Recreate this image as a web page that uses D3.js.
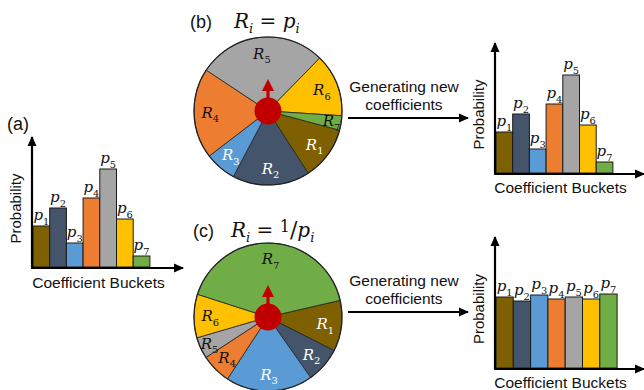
<!DOCTYPE html>
<html>
<head>
<meta charset="utf-8">
<script src="https://d3js.org/d3.v7.min.js"></script>
<style>
  body { margin: 0; background: #fff; }
  text { font-family: "Liberation Sans", Arial, sans-serif; fill: #111; }
  .m { font-family: "DejaVu Serif", "Liberation Serif", serif; }
</style>
</head>
<body>
<svg width="644" height="390"></svg>
<script>
// bucket data (bar heights, arbitrary units)
var buckets = ["1", "2", "3", "4", "5", "6", "7"];
var probOld = [41, 59, 24, 69, 98, 48, 11];
var probNew = [71, 67, 73, 69, 71, 69, 74];
var colors = ["#7f6000", "#44546a", "#5b9bd5", "#ed7d31", "#a5a5a5", "#ffc000", "#70ad47"];
var lightText = [true, true, true, false, false, false, false];

var svg = d3.select("svg");

svg.append("defs").append("marker")
    .attr("id", "arr")
    .attr("viewBox", "0 0 10 10")
    .attr("refX", 9).attr("refY", 5)
    .attr("markerUnits", "userSpaceOnUse")
    .attr("markerWidth", 10).attr("markerHeight", 10)
    .attr("orient", "auto")
    .append("path").attr("d", "M0,0.5 L10,5 L0,9.5 z").attr("fill", "#000");

// italic letter with an upright subscript
function mathLabel(sel, base, sub, size) {
    var t = sel.append("text").attr("class", "m").attr("font-size", size);
    t.append("tspan").attr("font-style", "italic").text(base);
    t.append("tspan").attr("dy", size * 0.3).attr("font-size", size * 0.66).text(sub);
    return t;
}

function barChart(x0, y0, yTop, xEnd, w, values, textY) {
    var g = svg.append("g");
    var x = d3.scaleBand().domain(buckets).range([x0 + 1, x0 + 1 + w * buckets.length]);
    var y = d3.scaleLinear().domain([0, 100]).range([y0, y0 - 100]);

    g.selectAll("rect").data(values).enter().append("rect")
        .attr("x", function(d, i) { return x(buckets[i]); })
        .attr("y", function(d) { return y(d); })
        .attr("width", x.bandwidth())
        .attr("height", function(d) { return y0 - y(d); })
        .attr("fill", function(d, i) { return colors[i]; })
        .attr("stroke", "#1a1a1a").attr("stroke-width", 1);

    values.forEach(function(d, i) {
        mathLabel(g, "p", buckets[i], 15)
            .attr("x", x(buckets[i]) + x.bandwidth() / 2)
            .attr("y", y(d) - 6)
            .attr("text-anchor", "middle");
    });

    g.append("line").attr("x1", x0).attr("y1", y0 + 1).attr("x2", x0).attr("y2", yTop)
        .attr("stroke", "#000").attr("stroke-width", 2.2).attr("marker-end", "url(#arr)");
    g.append("line").attr("x1", x0 - 1).attr("y1", y0 + 1).attr("x2", xEnd).attr("y2", y0 + 1)
        .attr("stroke", "#000").attr("stroke-width", 2.2).attr("marker-end", "url(#arr)");

    g.append("text").attr("x", (x0 + xEnd) / 2 - 9).attr("y", textY)
        .attr("text-anchor", "middle").attr("font-size", 15.5).text("Coefficient Buckets");
    g.append("text")
        .attr("transform", "translate(" + (x0 - 11) + "," + (yTop + (y0 - yTop) * 0.55) + ") rotate(-90)")
        .attr("text-anchor", "middle").attr("font-size", 15).text("Probability");
}

function wheel(cx, cy, r, values, startDeg) {
    var g = svg.append("g").attr("transform", "translate(" + cx + "," + cy + ")");
    var a0 = startDeg * Math.PI / 180;
    var pie = d3.pie().sort(null).startAngle(a0).endAngle(a0 + 2 * Math.PI);
    var arc = d3.arc().innerRadius(0).outerRadius(r);
    var arcs = pie(values);

    g.selectAll("path").data(arcs).enter().append("path")
        .attr("d", arc)
        .attr("fill", function(d, i) { return colors[i]; })
        .attr("stroke", "#222").attr("stroke-width", 0.8);
    g.append("circle").attr("r", r).attr("fill", "none").attr("stroke", "#222").attr("stroke-width", 1.2);

    arcs.forEach(function(d, i) {
        // thin slices get their label pushed towards the rim
        var lr = (d.endAngle - d.startAngle) < 0.35 ? r * 0.87 : r * 0.78;
        var c = d3.arc().innerRadius(lr).outerRadius(lr).centroid(d);
        var t = mathLabel(g, "R", buckets[i], 15)
            .attr("x", c[0]).attr("y", c[1] + 5).attr("text-anchor", "middle");
        t.selectAll("tspan").style("fill", lightText[i] ? "#fff" : "#111");
    });

    // red hub with pointer
    g.append("rect").attr("x", -1.6).attr("y", -22).attr("width", 3.2).attr("height", 22).attr("fill", "#c00000");
    g.append("path").attr("d", "M0,-32 L6,-20 L-6,-20 Z").attr("fill", "#c00000");
    g.append("circle").attr("r", 13.5).attr("fill", "#c00000");
}

function genArrow(y, textY) {
    svg.append("line").attr("x1", 348).attr("y1", y).attr("x2", 468).attr("y2", y)
        .attr("stroke", "#000").attr("stroke-width", 2).attr("marker-end", "url(#arr)");
    svg.append("text").attr("x", 404).attr("y", textY).attr("text-anchor", "middle")
        .attr("font-size", 15.5).text("Generating new");
    svg.append("text").attr("x", 404).attr("y", textY + 18).attr("text-anchor", "middle")
        .attr("font-size", 15.5).text("coefficients");
}

// (a)
svg.append("text").attr("x", 7).attr("y", 130).attr("font-size", 18).text("(a)");
barChart(32, 267, 137, 183, 16.7, probOld, 288);

// (b)
svg.append("text").attr("x", 190).attr("y", 28).attr("font-size", 18).text("(b)");
var tb = svg.append("text").attr("class", "m").attr("x", 234).attr("y", 28).attr("font-size", 20);
tb.append("tspan").attr("font-style", "italic").text("R");
tb.append("tspan").attr("font-style", "italic").attr("dy", 5).attr("font-size", 13).text("i");
tb.append("tspan").attr("dy", -5).text(" = ");
tb.append("tspan").attr("font-style", "italic").text("p");
tb.append("tspan").attr("font-style", "italic").attr("dy", 5).attr("font-size", 13).text("i");
wheel(268, 111, 74, probOld, 105);
genArrow(118, 92);
barChart(495, 173, 43, 644, 16.7, probOld, 193);

// (c)
svg.append("text").attr("x", 193).attr("y", 237).attr("font-size", 18).text("(c)");
var tc = svg.append("text").attr("class", "m").attr("x", 231).attr("y", 237).attr("font-size", 20);
tc.append("tspan").attr("font-style", "italic").text("R");
tc.append("tspan").attr("font-style", "italic").attr("dy", 5).attr("font-size", 13).text("i");
tc.append("tspan").attr("dy", -5).text(" = ");
tc.append("tspan").attr("dy", -5).attr("font-size", 16).text("1");
tc.append("tspan").attr("dy", 5).attr("font-size", 22).text("/");
tc.append("tspan").attr("font-style", "italic").text("p");
tc.append("tspan").attr("font-style", "italic").attr("dy", 5).attr("font-size", 13).text("i");
wheel(268, 317, 74, probOld.map(function(v) { return 1 / v; }), 77);
genArrow(312, 286);
barChart(495, 368, 237, 644, 17.3, probNew, 388);
</script>
</body>
</html>
